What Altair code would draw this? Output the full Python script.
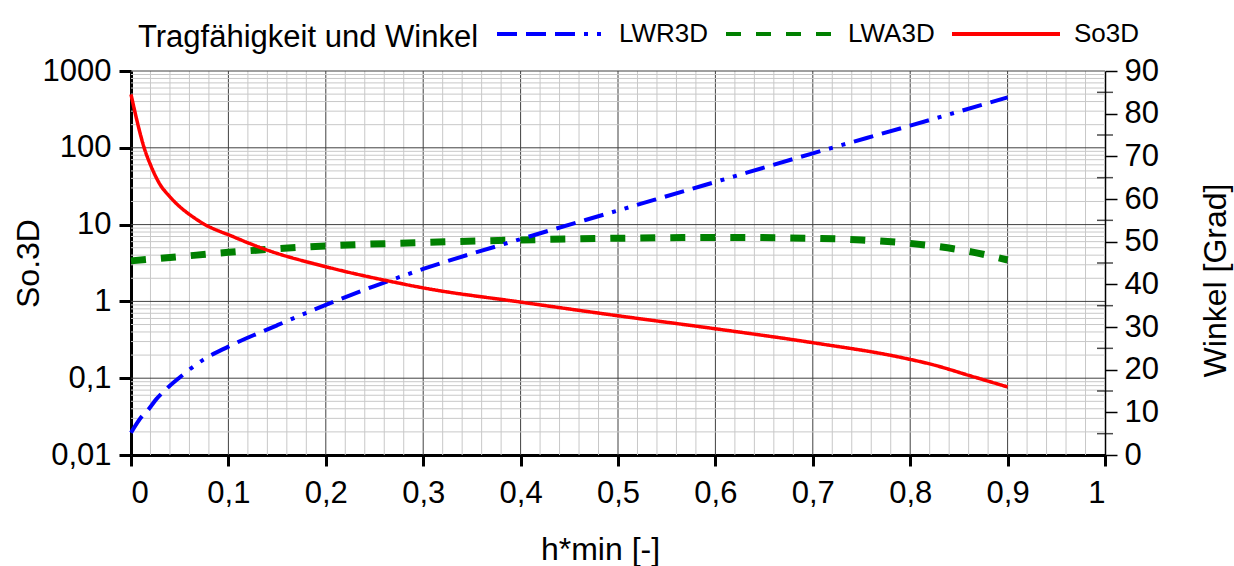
import altair as alt
import pandas as pd

# ---------------- data ----------------
h_so = [0, 0.006, 0.013, 0.021, 0.03, 0.04, 0.071, 0.105, 0.139, 0.2, 0.276, 0.3, 0.4, 0.5, 0.6, 0.7, 0.79, 0.824, 0.861, 0.9]
so3d = [497, 229, 105, 56, 33, 23, 10.9, 6.95, 4.7, 2.83, 1.72, 1.5, 0.98, 0.65, 0.44, 0.29, 0.187, 0.149, 0.108, 0.077]

h_lwr = [0, 0.011, 0.018, 0.026, 0.035, 0.049, 0.057, 0.074, 0.1, 0.15, 0.2, 0.25, 0.3, 0.4, 0.5, 0.6, 0.7, 0.8, 0.9]
lwr3d = [5.2, 9.0, 10.7, 13.1, 15.2, 18.0, 19.5, 22.3, 25.4, 30.4, 35.2, 39.6, 43.6, 50.6, 57.3, 64.0, 70.7, 77.2, 83.8]

h_lwa = [0, 0.05, 0.1, 0.2, 0.3, 0.4, 0.5, 0.6, 0.7, 0.75, 0.8, 0.863, 0.9]
lwa3d = [45.5, 46.5, 47.5, 49.0, 49.8, 50.4, 50.8, 51.0, 50.8, 50.4, 49.6, 47.6, 45.7]

series_names = ["LWR3D", "LWA3D", "So3D"]
series_colors = ["#0000FF", "#008000", "#FF0000"]
series_dash = [[20, 9, 20, 9, 20, 9, 4, 9, 4, 9], [15, 15], [1, 0]]

x_ticks = [round(0.1 * i, 1) for i in range(11)]
x_minor = [round(0.02 * i, 2) for i in range(1, 50) if i % 5]
y_left_ticks = [0.01, 0.1, 1, 10, 100, 1000]
y_left_minor = [k * 10.0 ** n for n in range(-2, 3) for k in range(2, 10)]
y_right_ticks = list(range(0, 91, 10))
y_right_minor = list(range(5, 90, 10))

W, H = 974, 384
FONT = "Liberation Sans"

# ---------------- scales / axes ----------------
x_scale = alt.Scale(domain=[0, 1], nice=False, zero=False)
x_axis = alt.Axis(
    values=x_ticks,
    labelExpr="datum.value == 0 ? '0' : datum.value == 1 ? '1' : replace(format(datum.value, '.1f'), '.', ',')",
    title="h*min [-]", titleX=469, titleY=104, titleBaseline="alphabetic", titleAnchor="start", titleAlign="center",
    grid=False, domainWidth=3, tickWidth=3, tickSize=11, labelPadding=12,
)
X = lambda f: alt.X(f, type="quantitative", scale=x_scale, axis=x_axis)

ylog_scale = alt.Scale(type="log", domain=[0.01, 1000], nice=False)
yl_axis = alt.Axis(
    orient="left", values=y_left_ticks,
    labelExpr="datum.value >= 1 ? format(datum.value, 'd') : replace(format(datum.value, '~g'), '.', ',')",
    title="So.3D", titleX=-103, titleY=H / 2, titleAngle=270, titleBaseline="middle", titleAlign="center",
    grid=False, domainWidth=3, tickWidth=3, tickSize=12, labelPadding=8,
)

ydeg_scale = alt.Scale(domain=[0, 90], nice=False, zero=False)
yr_axis = alt.Axis(
    orient="right", values=y_right_ticks, format="d",
    title="Winkel [Grad]", titleX=110, titleY=209, titleAngle=270, titleBaseline="middle", titleAlign="center",
    grid=False, domainWidth=1.5, tickWidth=1.5, tickSize=12, labelPadding=7,
)

legend = alt.Legend(
    orient="none", legendX=7, legendY=-93, direction="horizontal",
    title="Tragfähigkeit und Winkel", titleOrient="left", titleFontSize=31, titleFontWeight="normal",
    titleFont=FONT, titleColor="black", titlePadding=16, titleBaseline="alphabetic", titleAnchor="end",
    titleLimit=600,
    labelFontSize=26, labelFont=FONT, labelColor="black", labelOffset=12, labelLimit=300,
    symbolType="stroke", symbolSize=11664, symbolStrokeWidth=4, columnPadding=9,
)
color_scale = alt.Scale(domain=series_names, range=series_colors)
dash_scale = alt.Scale(domain=series_names, range=series_dash)

def series_chart(hs, vs, name, width, yscale, yaxis):
    df = pd.DataFrame({"h": hs, "v": vs, "series": name})
    return alt.Chart(df).mark_line(
        strokeWidth=width, strokeCap="butt", strokeJoin="round", interpolate="monotone"
    ).encode(
        x=X("h"),
        y=alt.Y("v:Q", scale=yscale, axis=yaxis),
        color=alt.Color("series:N", scale=color_scale, legend=legend),
        strokeDash=alt.StrokeDash("series:N", scale=dash_scale, legend=legend),
    )

# ---------------- grid layer (carries left axis) ----------------
vminor = alt.Chart(pd.DataFrame({"x": x_minor})).mark_rule(color="#c8c8c8", strokeWidth=1).encode(x=X("x"))
vmajor = alt.Chart(pd.DataFrame({"x": x_ticks[1:10]})).mark_rule(color="#404040", strokeWidth=1).encode(x=X("x"))
hminor = alt.Chart(pd.DataFrame({"y": y_left_minor})).mark_rule(color="#c8c8c8", strokeWidth=1).encode(
    y=alt.Y("y:Q", scale=ylog_scale, axis=yl_axis))
hmajor = alt.Chart(pd.DataFrame({"y": y_left_ticks[1:]})).mark_rule(color="#404040", strokeWidth=1).encode(
    y=alt.Y("y:Q", scale=ylog_scale, axis=yl_axis))
grid = alt.layer(vminor, vmajor, hminor, hmajor)

# ---------------- angle layer (right axis) ----------------
green = series_chart(h_lwa, lwa3d, "LWA3D", 7, ydeg_scale, yr_axis)
blue = series_chart(h_lwr, lwr3d, "LWR3D", 4, ydeg_scale, yr_axis)
minor_ticks = alt.Chart(pd.DataFrame({"v": y_right_minor})).mark_tick(
    orient="horizontal", size=16, thickness=1.5, color="black").encode(
    x=alt.value(W), y=alt.Y("v:Q", scale=ydeg_scale, axis=yr_axis))
angles = alt.layer(green, blue, minor_ticks)

# ---------------- So3D layer (left log scale, hidden axis) ----------------
red = series_chart(h_so, so3d, "So3D", 3.5, ylog_scale, None)

chart = alt.layer(grid, angles, red).resolve_scale(y="independent").properties(
    width=W, height=H, autosize="none",
    padding={"left": 131, "top": 71, "right": 1234 - 131 - W, "bottom": 566 - 71 - H},
).configure_view(stroke=None).configure_axis(
    labelFont=FONT, labelFontSize=31, labelColor="black",
    titleFont=FONT, titleFontSize=32, titleFontWeight="normal", titleColor="black",
    domainColor="black", tickColor="black",
)

chart.save("out.html", embed_options={"renderer": "svg", "actions": False})
